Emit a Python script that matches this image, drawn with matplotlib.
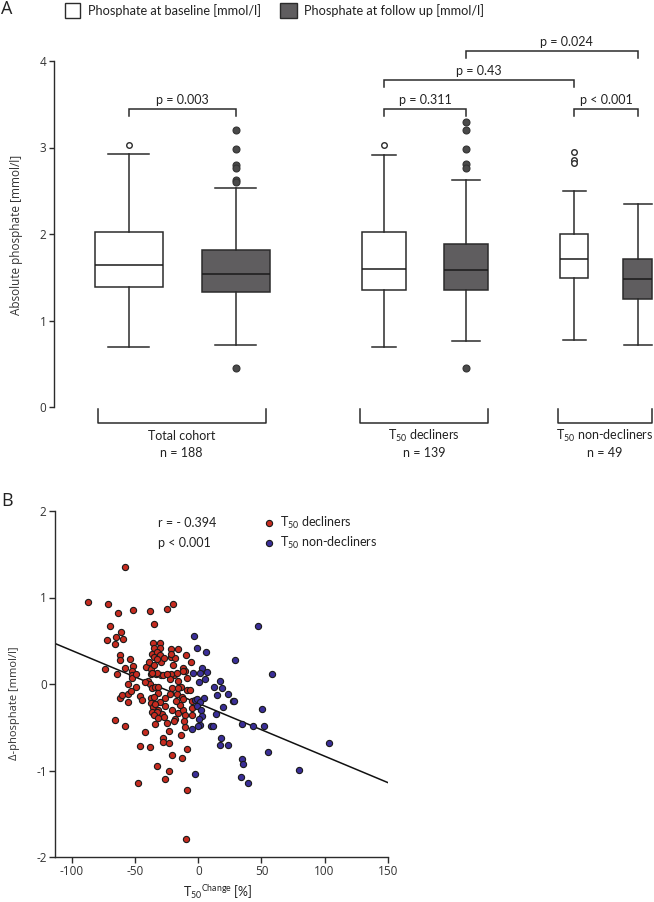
import matplotlib
matplotlib.use("Agg")
import matplotlib.pyplot as plt
from matplotlib.patches import Rectangle

# ---------------- data ----------------
# Panel A: box statistics (mmol/l)
box_labels = ["Total baseline", "Total follow-up", "Decl baseline", "Decl follow-up",
              "Non-decl baseline", "Non-decl follow-up"]
whislo = [0.69, 0.72, 0.69, 0.76, 0.775, 0.72]
q1 = [1.39, 1.33, 1.356, 1.35, 1.495, 1.245]
med = [1.64, 1.54, 1.595, 1.58, 1.71, 1.48]
q3 = [2.02, 1.82, 2.02, 1.88, 2.00, 1.71]
whishi = [2.93, 2.53, 2.91, 2.62, 2.50, 2.35]
fliers = [[3.03],
          [3.20, 2.98, 2.80, 2.76, 2.62, 2.60, 0.45],
          [3.03],
          [3.29, 3.20, 2.98, 2.81, 2.76, 0.45],
          [2.95, 2.86, 2.82],
          []]
group_names = ["Total cohort", "T$_{\\mathrm{50}}$ decliners", "T$_{\\mathrm{50}}$ non-decliners"]
group_n = ["n = 188", "n = 139", "n = 49"]
pvals = ["p = 0.003", "p = 0.311", "p < 0.001", "p = 0.43", "p = 0.024"]

# Panel B: scatter data (T50 change %, delta phosphate mmol/l)
dec_x = [-57.8, -87, -71.6, -51.7, -63.4, -38.2, -24.7, -20.2, -35, -70.3,
         -61.3, -65.3, -72.7, -59.4, -66.3, -62, -62.3, -54.4, -73.7, -64.5,
         -58, -51.5, -52.3, -52.3, -52.8, -55.4, -49.6, -62.3, -60.5, -55.4,
         -55.4, -53, -66.3, -58, -46.4, -44.3, -41.9, -45.9, -38.2, -48,
         -32.4, -26, -23.1, -27.9, -27.9, -23.1, -21, -13.3, -9.3, -9.3,
         -9.5, -14, -10.9, -4.8, -41.6, -39, -36, -30.2, -35.3, -30.5,
         -36.3, -32.4, -35.3, -29.4, -37.1, -37.1, -33.4, -29.2, -27.6, -39.5,
         -38.2, -36.9, -34.5, -31.6, -32.1, -37.7, -35.3, -37.4, -35.8, -30,
         -26.5, -36.6, -31.6, -28.6, -27.1, -34.5, -26.3, -22.8, -21, -19.6,
         -21.8, -17.2, -20.2, -22, -21.5, -18.3, -15.9, -10.1, -5.6, -12.5,
         -10.6, -9.3, -15.9, -13.8, -17.2, -12.7, -9.3, -6.4, -21, -18.3,
         -15.9, -12.5, -10.6, -19.4, -14.6, -24.4, -23.6, -22.4, -34.3, -32.9,
         -34.8, -31.7, -16.3, -12.4, -11.1, -49.4, -30.1, -34.8, -32.9, -21.4,
         -11.9, -25, -32.5, -36.4, -5.2, -5.2, -27, -42, -18]
dec_y = [1.35, 0.95, 0.93, 0.86, 0.82, 0.84, 0.87, 0.92, 0.69, 0.67,
         0.60, 0.54, 0.51, 0.52, 0.46, 0.33, 0.28, 0.29, 0.17, 0.11,
         0.19, 0.21, 0.15, 0.10, 0.07, 0.00, -0.03, -0.16, -0.13, -0.11,
         -0.21, -0.08, -0.42, -0.48, -0.14, -0.18, -0.55, -0.72, -0.73, -1.15,
         -0.95, -1.10, -1.01, -0.62, -0.67, -0.68, -0.82, -0.85, -0.75, -1.23,
         -1.79, -0.59, -0.50, -0.36, 0.20, 0.25, 0.47, 0.47, 0.42, 0.42,
         0.35, 0.37, 0.31, 0.25, 0.17, 0.11, 0.11, 0.10, 0.10, 0.03,
         0.00, -0.05, -0.03, -0.03, -0.10, -0.16, -0.15, -0.22, -0.27, -0.21,
         -0.26, -0.32, -0.30, -0.35, -0.38, -0.46, -0.16, -0.11, -0.05, 0.10,
         0.12, 0.13, 0.22, 0.31, 0.41, 0.30, 0.40, 0.34, 0.25, 0.18,
         0.15, 0.07, 0.04, -0.03, -0.11, -0.15, -0.07, -0.07, -0.30, -0.40,
         -0.33, -0.30, -0.36, -0.43, -0.24, -0.45, -0.54, 0.06, -0.23, -0.32,
         -0.36, -0.39, -0.05, -0.17, -0.43, 0.12, 0.34, 0.22, 0.29, 0.35,
         0.15, 0.11, 0.13, 0.13, -0.20, -0.28, 0.30, 0.02, -0.20]
nondec_x = [47.5, -3.2, -1.3, 6.1, 28.8, 58.6, -4, 2.7, 6.6, 5.3,
            0.8, 17.2, 12.4, 19, 14.6, 23.3, 27.2, 28.3, -2.6, -0.8,
            4.8, 1.3, -1.3, 19.6, 50.7, 1.9, 2.7, 1.3, 13.8, -4.7,
            -0.2, 9.8, 11.4, 34.6, 43.5, 52.3, 17.7, 17.2, 23.8, 54.9,
            103.7, 79.5, 34.6, 35.6, 34, 39.6, -2.6, 0.8, 1.3]
nondec_y = [0.67, 0.56, 0.42, 0.37, 0.28, 0.12, 0.13, 0.18, 0.14, 0.06,
            0.02, 0.04, -0.04, -0.05, -0.13, -0.12, -0.20, -0.20, -0.18, -0.17,
            -0.16, -0.21, -0.26, -0.27, -0.29, -0.30, -0.37, -0.47, -0.35, -0.52,
            -0.49, -0.48, -0.48, -0.46, -0.48, -0.48, -0.62, -0.71, -0.70, -0.79,
            -0.68, -0.99, -0.87, -0.93, -1.07, -1.15, -1.04, -0.41, 0.13]
reg_intercept = -0.224
reg_slope = -0.0061
r_text = "r = - 0.394"
p_text = "p < 0.001"

# ---------------- style ----------------
plt.rcParams["font.family"] = ["Open Sans", "DejaVu Sans"]
plt.rcParams["mathtext.fontset"] = "custom"
plt.rcParams["mathtext.rm"] = "Lato"
plt.rcParams["mathtext.it"] = "Lato:italic"
plt.rcParams["mathtext.bf"] = "Lato:bold"
NARROW = ["Lato", "DejaVu Sans"]
LINE = "#2b2b2b"
GREY = "#5f5d5f"
RED = "#c62b1f"
BLUE = "#3a2e98"

W, H = 654, 902
fig = plt.figure(figsize=(W / 100, H / 100), dpi=100)


def rect(l, t, r, b):
    return [l / W, 1 - b / H, (r - l) / W, (b - t) / H]


# ---------------- panel A ----------------
axA = fig.add_axes(rect(54, 17.75, 654, 458.9))
axA.set_xlim(54, 654)
axA.set_ylim(-0.6, 4.5)
positions = [128.5, 235.5, 384, 466, 574, 637.8]
widths = [68, 68, 44, 44.6, 28.3, 29]
capw = [40.7, 40.7, 23.3, 27.3, 23, 27.7]
stats = []
for i in range(len(box_labels)):
    stats.append(dict(label=box_labels[i], whislo=whislo[i], q1=q1[i], med=med[i],
                      q3=q3[i], whishi=whishi[i], fliers=fliers[i]))
bp = axA.bxp(stats, positions=positions, widths=widths, capwidths=capw,
             patch_artist=True, manage_ticks=False,
             boxprops=dict(edgecolor=LINE, linewidth=1.1),
             medianprops=dict(color="#1a1a1a", linewidth=1.1),
             whiskerprops=dict(color=LINE, linewidth=1.1),
             capprops=dict(color=LINE, linewidth=1.1))
for i, patch in enumerate(bp["boxes"]):
    patch.set_facecolor("white" if i % 2 == 0 else GREY)
for i, fl in enumerate(bp["fliers"]):
    if i % 2 == 0:
        fl.set(marker="o", markerfacecolor="white", markeredgecolor=LINE,
               markersize=4.0, markeredgewidth=1.0, linestyle="none")
    else:
        fl.set(marker="o", markerfacecolor="#4a4a4a", markeredgecolor="#333333",
               markersize=5.0, markeredgewidth=0.8, linestyle="none")

for s in ["top", "right", "bottom"]:
    axA.spines[s].set_visible(False)
axA.spines["left"].set_bounds(0, 4)
axA.spines["left"].set_color(LINE)
axA.spines["left"].set_linewidth(1.0)
axA.set_yticks([0, 1, 2, 3, 4])
axA.set_xticks([])
axA.tick_params(axis="y", direction="out", length=3.5, width=1.0, color=LINE,
                labelsize=8.5, labelcolor="#333333", pad=2)

# significance brackets: (x1, x2, y, label x, p text)
sig = [(positions[0], positions[1], 3.45, None, pvals[0]),
       (positions[2], positions[3], 3.45, None, pvals[1]),
       (positions[4], positions[5], 3.45, None, pvals[2]),
       (positions[2], positions[4], 3.78, None, pvals[3]),
       (positions[3], positions[5], 4.12, 566, pvals[4])]
for x1, x2, y, lx, txt in sig:
    axA.plot([x1, x1, x2, x2], [y - 0.085, y, y, y - 0.085], color=LINE, lw=1.1,
             clip_on=False, solid_joinstyle="miter")
    axA.text(lx if lx else (x1 + x2) / 2, y + 0.1, txt, ha="center", va="center",
             fontsize=9, family=NARROW, color="#222222")

# group brackets
groups = [(97.5, 265.8), (360.4, 488.3), (558.3, 652)]
for (x1, x2), name, n in zip(groups, group_names, group_n):
    axA.plot([x1, x1, x2, x2], [-0.027, -0.182, -0.182, -0.027], color=LINE, lw=1.1,
             clip_on=False)
    cx = (x1 + x2) / 2
    axA.text(cx, -0.335, name, ha="center", va="center", fontsize=9, family=NARROW,
             color="#222222")
    axA.text(cx, -0.53, n, ha="center", va="center", fontsize=9, family=NARROW,
             color="#222222")

fig.text(16.5 / W, 1 - 235 / H, "Absolute phosphate [mmol/l]", rotation=90,
         ha="center", va="center", fontsize=8.5, color="#333333")

# legend of panel A
fig.add_artist(Rectangle((64.6 / W, 1 - 18.3 / H), 15.8 / W, 15.3 / H,
                         transform=fig.transFigure, facecolor="white",
                         edgecolor=LINE, linewidth=1.0))
fig.add_artist(Rectangle((280 / W, 1 - 18.3 / H), 16.7 / W, 15.3 / H,
                         transform=fig.transFigure, facecolor=GREY,
                         edgecolor=LINE, linewidth=1.0))
fig.text(87.5 / W, 1 - 11 / H, "Phosphate at baseline [mmol/l]", ha="left",
         va="center", fontsize=9.2, family=NARROW, color="#222222")
fig.text(304 / W, 1 - 11 / H, "Phosphate at follow up [mmol/l]", ha="left",
         va="center", fontsize=9.2, family=NARROW, color="#222222")
fig.text(1 / W, 1 - 9 / H, "A", ha="left", va="center", fontsize=13,
         color="#222222")

# ---------------- panel B ----------------
axB = fig.add_axes(rect(55, 511, 387.7, 857))
axB.set_xlim(-113.5, 150)
axB.set_ylim(-2, 2)
xl = axB.get_xlim()
axB.plot(list(xl), [reg_intercept + reg_slope * xl[0], reg_intercept + reg_slope * xl[1]],
         color="#111111", lw=1.1, zorder=2)
axB.scatter(dec_x, dec_y, s=20, c=RED, edgecolors="#1a1a1a", linewidths=0.8, zorder=3)
axB.scatter(nondec_x, nondec_y, s=20, c=BLUE, edgecolors="#1a1a1a", linewidths=0.8,
            zorder=4)
for s in ["top", "right"]:
    axB.spines[s].set_visible(False)
for s in ["left", "bottom"]:
    axB.spines[s].set_color(LINE)
    axB.spines[s].set_linewidth(1.0)
axB.set_xticks([-100, -50, 0, 50, 100, 150])
axB.set_xticklabels(["-100", "-50", "0", "50", "100", "150"])
axB.set_yticks([-2, -1, 0, 1, 2])
axB.set_yticklabels(["-2", "-1", "0", "1", "2"])
axB.tick_params(direction="out", length=4, width=1.0, color=LINE, labelsize=8.5,
                labelcolor="#333333", pad=2)

axB.text(-31.7, 1.86, r_text, ha="left", va="center", fontsize=9, family=NARROW,
         color="#222222")
axB.text(-31.7, 1.63, p_text, ha="left", va="center", fontsize=9, family=NARROW,
         color="#222222")
axB.scatter([56.2], [1.86], s=20, c=RED, edgecolors="#1a1a1a", linewidths=0.8,
            clip_on=False)
axB.scatter([56.2], [1.63], s=20, c=BLUE, edgecolors="#1a1a1a", linewidths=0.8,
            clip_on=False)
axB.text(64.7, 1.86, "T$_{\\mathrm{50}}$ decliners", ha="left", va="center", fontsize=9,
         family=NARROW, color="#222222")
axB.text(64.7, 1.63, "T$_{\\mathrm{50}}$ non-decliners", ha="left", va="center",
         fontsize=9, family=NARROW, color="#222222")

fig.text(218 / W, 1 - 892 / H, "T$_{\\mathrm{50}}$$^{\\mathrm{Change}}$ [%]",
         ha="center", va="center", fontsize=9, family=NARROW, color="#222222")
fig.text(15 / W, 1 - 703 / H, "\u0394-phosphate [mmol/l]", rotation=90, ha="center",
         va="center", fontsize=8.0, color="#333333")
fig.text(1 / W, 1 - 501 / H, "B", ha="left", va="center", fontsize=13, color="#222222")

fig.savefig("out.png", dpi=100)
